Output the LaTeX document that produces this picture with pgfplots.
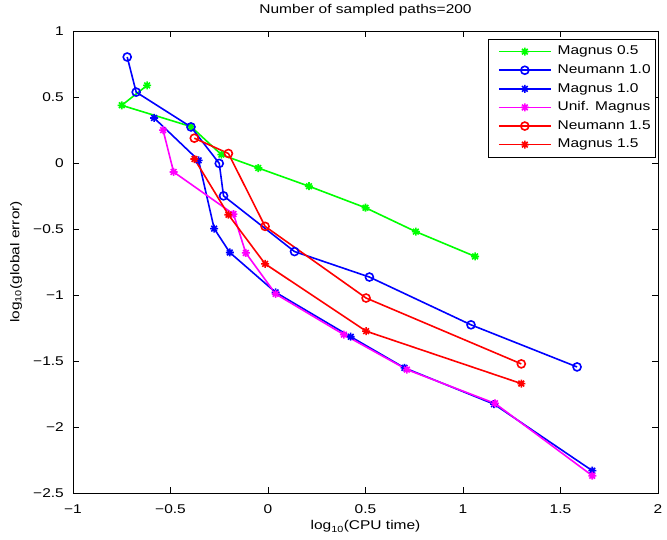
\documentclass[border=0pt]{standalone}
\usepackage{fontspec}
\setmainfont{Liberation Sans}[FakeStretch=1.22]
\usepackage{pgfplots}
\pgfplotsset{compat=1.18}
\pgfdeclareplotmark{mstar}{%
 \pgfpathmoveto{\pgfpoint{-\pgfplotmarksize}{0pt}}\pgfpathlineto{\pgfpoint{\pgfplotmarksize}{0pt}}%
 \pgfpathmoveto{\pgfpoint{0pt}{-\pgfplotmarksize}}\pgfpathlineto{\pgfpoint{0pt}{\pgfplotmarksize}}%
 \pgfpathmoveto{\pgfpoint{-.707\pgfplotmarksize}{-.707\pgfplotmarksize}}\pgfpathlineto{\pgfpoint{.707\pgfplotmarksize}{.707\pgfplotmarksize}}%
 \pgfpathmoveto{\pgfpoint{-.707\pgfplotmarksize}{.707\pgfplotmarksize}}\pgfpathlineto{\pgfpoint{.707\pgfplotmarksize}{-.707\pgfplotmarksize}}%
 \pgfusepathqstroke}
\definecolor{mgreen}{rgb}{0,1,0}
\definecolor{mblue}{rgb}{0,0,1}
\definecolor{mmag}{rgb}{1,0,1}
\definecolor{mred}{rgb}{1,0,0}
\newcommand{\mfont}{\fontsize{12.7}{15}\selectfont}
\begin{document}
\begin{tikzpicture}
\useasboundingbox (-73pt,-47pt) rectangle (594pt,493pt);
\begin{axis}[
 at={(0pt,0pt)}, anchor=south west,
 scale only axis, width=585pt, height=462pt,
 xmin=-1, xmax=2, ymin=-2.5, ymax=1,
 xtick={-1,-0.5,0,0.5,1,1.5,2},
 xticklabels={−1,−0.5,0,0.5,1,1.5,2},
 ytick={-2.5,-2,-1.5,-1,-0.5,0,0.5,1},
 yticklabels={−2.5,−2,−1.5,−1,−0.5,0,0.5,1},
 tick align=inside, major tick length=6pt,
 tick pos=both,
 ticklabel style={font=\mfont},
 xticklabel style={anchor=base, yshift=-21pt, inner sep=0pt},
 yticklabel style={anchor=east, xshift=-9pt, inner sep=0pt},
 title style={font=\mfont, at={(axis description cs:0.5,1)}, anchor=base, yshift=11.7pt, inner sep=0pt},
 title={Number of sampled paths=200},
 xlabel style={font=\mfont, at={(axis description cs:0.5,0)}, anchor=base, yshift=-37pt, inner sep=0pt},
 xlabel={log\textsubscript{10}(CPU time)},
 ylabel style={font=\mfont, at={(axis description cs:-0.0974,0.5)}, anchor=center, inner sep=0pt},
 ylabel={log\textsubscript{10}(global error)},
 axis line style={line width=0.9pt},
 every tick/.style={black, line width=0.7pt},
 legend cell align=left,
 legend style={at={(axis description cs:1,1)}, anchor=north east, xshift=-2pt, yshift=-8pt,
   font=\mfont, draw=black, line width=0.7pt,
   inner xsep=5pt, inner ysep=3pt, row sep=0pt, column sep=6pt,
   nodes={inner xsep=0pt, inner ysep=3pt, text height=9.6pt, text depth=3pt}},
 legend image code/.code={\path (0pt,0pt); \draw[line width=1.6pt, mark repeat=2, mark phase=2] plot coordinates {(4.5pt,0pt) (30.5pt,0pt) (56.5pt,0pt)};},
 every axis plot/.append style={line width=1.6pt},
]
\addplot[color=mgreen, mark=mstar, mark size=4pt] coordinates {
(-0.62,0.588) (-0.75,0.437) (-0.395,0.276) (-0.239,0.063) (-0.05,-0.038) (0.21,-0.176) (0.5,-0.339) (0.758,-0.52) (1.062,-0.708)};
\addlegendentry{Magnus 0.5}
\addplot[color=mblue, mark=o, mark size=4pt] coordinates {
(-0.722,0.803) (-0.676,0.537) (-0.395,0.273) (-0.25,-0.003) (-0.228,-0.249) (0.136,-0.671) (0.52,-0.864) (1.041,-1.226) (1.585,-1.545)};
\addlegendentry{Neumann 1.0}
\addplot[color=mblue, mark=mstar, mark size=4pt] coordinates {
(-0.584,0.341) (-0.356,0.02) (-0.276,-0.497) (-0.196,-0.678) (0.039,-0.98) (0.424,-1.316) (0.70,-1.552) (1.159,-1.827) (1.663,-2.331)};
\addlegendentry{Magnus 1.0}
\addplot[color=mmag, mark=mstar, mark size=4pt] coordinates {
(-0.538,0.249) (-0.484,-0.068) (-0.177,-0.387) (-0.114,-0.681) (0.039,-0.992) (0.389,-1.30) (0.712,-1.565) (1.164,-1.821) (1.663,-2.369)};
\addlegendentry{Unif. Magnus}
\addplot[color=mred, mark=o, mark size=4pt] coordinates {
(-0.378,0.188) (-0.203,0.072) (-0.015,-0.48) (0.503,-1.023) (1.299,-1.522)};
\addlegendentry{Neumann 1.5}
\addplot[color=mred, mark=mstar, mark size=4pt] coordinates {
(-0.377,0.03) (-0.203,-0.392) (-0.015,-0.764) (0.503,-1.274) (1.299,-1.671)};
\addlegendentry{Magnus 1.5}
\end{axis}
\end{tikzpicture}
\end{document}
